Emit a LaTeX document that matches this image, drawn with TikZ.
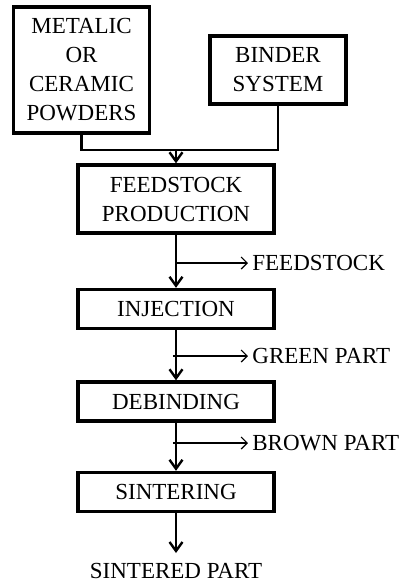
\documentclass[tikz,border=0pt]{standalone}
\usepackage{fontspec}
\setmainfont{Liberation Serif}
\usepackage{tikz}
\usetikzlibrary{arrows.meta,positioning,calc}
\tikzset{
  box-style/.style = {
    rectangle, draw, line width=1.7pt,
    align=center,
    inner sep=1pt,
    minimum width=#1
  },
  input-style/.style = {
    box-style=68pt
  },
  stage-style/.style = {
    box-style=98pt,
    minimum height=19.5pt
  },
  out-style/.style = {
    anchor=west, inner sep=2pt
  },
  flow-style/.style = {
    draw, line width=1.2pt,
    -{Straight Barb[length=4.5pt,width=6.5pt,line width=1.2pt]}
  },
  branch-style/.style = {
    draw, line width=0.6pt,
    -{Straight Barb[length=3pt,width=6pt]}
  },
  main-style/.style = {
    x=0.5pt, y=-0.5pt,
    font=\fontsize{11.5}{14.5}\selectfont
  }
}
\begin{document}
\begin{tikzpicture}[main-style]
  \useasboundingbox (0,0) rectangle (407,586);
  % inputs
  \node [input-style, minimum height=63pt] (powders) at (81.5,70) {METALIC\\OR\\CERAMIC\\POWDERS};
  \node [input-style, minimum height=34pt] (binder) at (278,70) {BINDER\\SYSTEM};
  % process chain
  \node [stage-style, minimum height=34pt] (production) at (176,199) {FEEDSTOCK\\PRODUCTION};
  \node [stage-style] (injection) at (176,309) {INJECTION};
  \node [stage-style] (debinding) at (176,401.5) {DEBINDING};
  \node [stage-style] (sintering) at (176,492) {SINTERING};
  \node [anchor=north, inner sep=5pt] (sintered) at (176,553) {SINTERED PART};

  % outputs on the side
  \node [out-style] (feedstock) at (248,263) {FEEDSTOCK};
  \node [out-style] (green) at (248,356) {GREEN PART};
  \node [out-style] (brown) at (248,443) {BROWN PART};

  \coordinate (join) at (176,150);
  \draw [line width=1.2pt] (powders.south) |- (join) -| (binder.south);
  \draw [flow-style] (join) -- (production.north);
  \draw [flow-style] (production.south) -- (injection.north);
  \draw [flow-style] (injection.south) -- (debinding.north);
  \draw [flow-style] (debinding.south) -- (sintering.north);
  \draw [flow-style] (sintering.south) -- (sintered.north);

  \draw [branch-style] (176,263) -- (feedstock);
  \draw [branch-style] (173,356) -- (green);
  \draw [branch-style] (173,443) -- (brown);
\end{tikzpicture}
\end{document}
